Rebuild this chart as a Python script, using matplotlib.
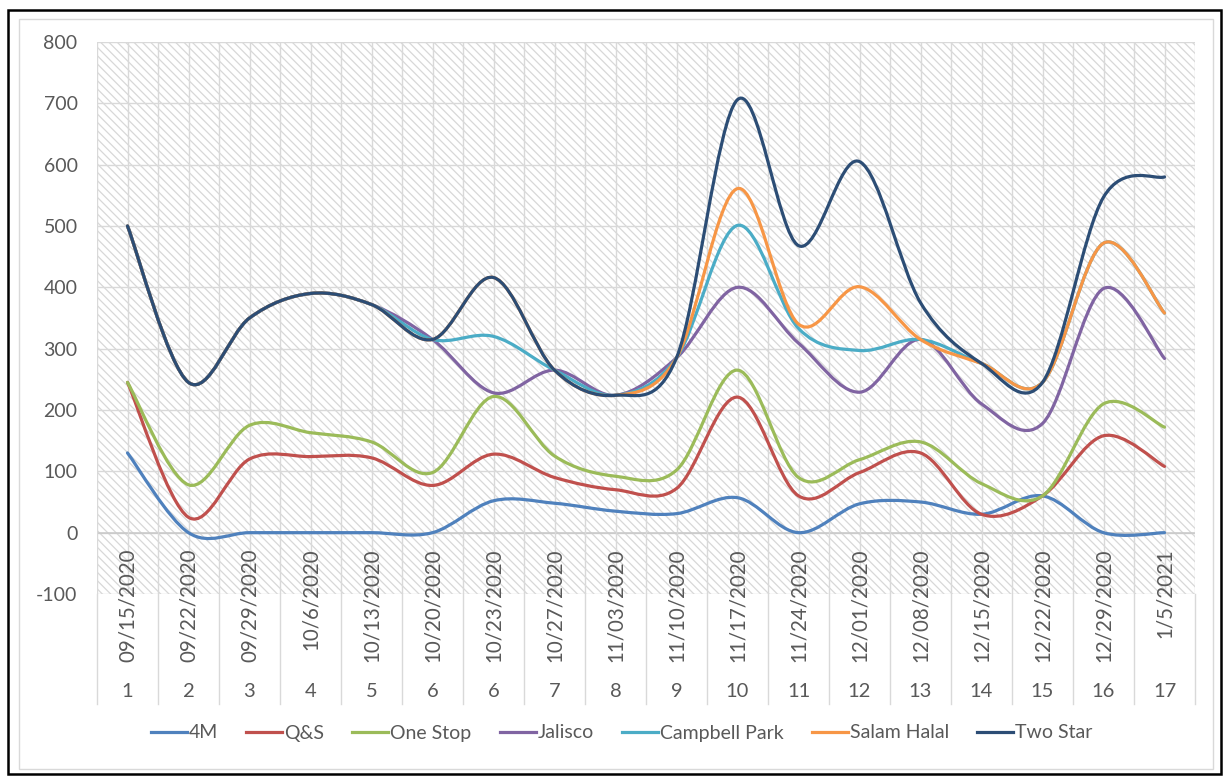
import numpy as np
import matplotlib
matplotlib.use("Agg")
import matplotlib.pyplot as plt
from matplotlib.path import Path
from matplotlib.patches import PathPatch, Rectangle
from matplotlib.lines import Line2D

plt.rcParams['font.family'] = ['Lato', 'DejaVu Sans']
plt.rcParams['axes.unicode_minus'] = False
plt.rcParams['hatch.linewidth'] = 0.9
plt.rcParams['hatch.color'] = '#d8d8d8'

# weekly counts per store (stacked line chart)
dates = ['09/15/2020', '09/22/2020', '09/29/2020', '10/6/2020', '10/13/2020',
         '10/20/2020', '10/23/2020', '10/27/2020', '11/03/2020', '11/10/2020',
         '11/17/2020', '11/24/2020', '12/01/2020', '12/08/2020', '12/15/2020',
         '12/22/2020', '12/29/2020', '1/5/2021']
weeks = ['1', '2', '3', '4', '5', '6', '6', '7', '8', '9', '10', '11', '12',
         '13', '14', '15', '16', '17']

stores = ['4M', 'Q&S', 'One Stop', 'Jalisco', 'Campbell Park', 'Salam Halal', 'Two Star']
m4 = [130, 0, 0, 0, 0, 0, 52, 48, 35, 31, 57, 0, 47, 50, 30, 60, 0, 0]
qs = [115, 25, 120, 124, 122, 77, 76, 42, 35, 41, 164, 60, 51, 80, 0, 0, 158, 108]
one_stop = [0, 53, 55, 39, 26, 21, 94, 35, 22, 30, 44, 30, 21, 18, 50, 0, 52, 64]
jalisco = [255, 167, 175, 227, 224, 217, 6, 140, 132, 183, 135, 219, 110, 167, 130, 118, 188, 112]
campbell = [0, 0, 0, 0, 0, 0, 92, 0, 0, 0, 101, 24, 68, 0, 66, 67, 74, 74]
salam = [0, 0, 0, 0, 0, 0, 96, 0, 0, 0, 60, 7, 104, 0, 0, 0, 0, 0]
two_star = [0, 0, 0, 0, 0, 0, 0, 0, 0, 0, 145, 128, 204, 60, 0, 0, 75, 222]

colors = ['#4F81BD', '#C0504D', '#9BBB59', '#8064A2', '#4BACC6', '#F79646', '#2C4D75']
text_col = '#595959'
grid_col = '#d9d9d9'


def smooth_path(xs, ys):
    # Catmull-Rom style bezier through every point, like a smoothed line
    n = len(xs)
    verts = [(xs[0], ys[0])]
    codes = [Path.MOVETO]
    for i in range(n - 1):
        a = max(i - 1, 0)
        b = min(i + 2, n - 1)
        c1 = (xs[i] + (xs[i + 1] - xs[a]) / 6, ys[i] + (ys[i + 1] - ys[a]) / 6)
        c2 = (xs[i + 1] - (xs[b] - xs[i]) / 6, ys[i + 1] - (ys[b] - ys[i]) / 6)
        verts += [c1, c2, (xs[i + 1], ys[i + 1])]
        codes += [Path.CURVE4] * 3
    return Path(verts, codes)


stack = np.cumsum(np.array([m4, qs, one_stop, jalisco, campbell, salam, two_star], float), axis=0)
x = np.arange(len(dates))

fig = plt.figure(figsize=(12.26, 7.77), dpi=100)
fig.patches.append(Rectangle((8 / 1226, 1 - 774 / 777), 1213 / 1226, 764 / 777,
                             transform=fig.transFigure, fill=False, ec='black', lw=1.8))
fig.patches.append(Rectangle((19 / 1226, 1 - 769 / 777), 1194 / 1226, 750 / 777,
                             transform=fig.transFigure, fill=False, ec='#d9d9d9', lw=1.0))

ax = fig.add_axes([97 / 1226, 1 - 594 / 777, 1098 / 1226, 552 / 777])
ax.set_xlim(-0.5, len(dates) - 0.5)
ax.set_ylim(-100, 800)
ax.add_patch(Rectangle((0, 0), 1, 1, transform=ax.transAxes, facecolor='white',
                       hatch='\\\\\\\\', edgecolor='#d8d8d8', lw=0, zorder=0))

for s in ax.spines.values():
    s.set_visible(False)
ax.set_yticks(range(-100, 801, 100))
ax.tick_params(axis='y', length=0, labelsize=14, labelcolor=text_col, pad=14)
ax.set_xticks([])
for yv in range(-100, 801, 100):
    ax.axhline(yv, color=grid_col, lw=1.0, zorder=1)
ax.axhline(0, color='#c8c8c8', lw=1.1, zorder=1)
for xv in np.arange(-0.5, len(dates), 0.5):
    ax.axvline(xv, color=grid_col, lw=1.0, zorder=1)

# category labels, two levels
xt = ax.get_xaxis_transform()
for i in x:
    ax.text(i, 0.083, dates[i], transform=xt, rotation=90, ha='center', va='top',
            fontsize=14.8, color=text_col, clip_on=False)
    ax.text(i, -0.177, weeks[i], transform=xt, ha='center', va='center',
            fontsize=14.5, color=text_col, clip_on=False)
for xv in np.arange(-0.5, len(dates), 1.0):
    ax.plot([xv, xv], [0, -0.2], transform=xt, color=grid_col, lw=1.0, clip_on=False)

handles = []
for k, name in enumerate(stores):
    ax.add_patch(PathPatch(smooth_path(x, stack[k]), fill=False, ec=colors[k],
                           lw=2.3, capstyle='round', joinstyle='round', zorder=3 + k))
    handles.append(Line2D([], [], color=colors[k], lw=2.3))

fig.legend(handles, stores, loc='center', bbox_to_anchor=(0.507, 1 - 733 / 777), ncol=7,
           frameon=False, fontsize=14, handlelength=1.85, handletextpad=0.1,
           columnspacing=1.45, labelcolor=text_col)

fig.savefig('out.png', dpi=100)
